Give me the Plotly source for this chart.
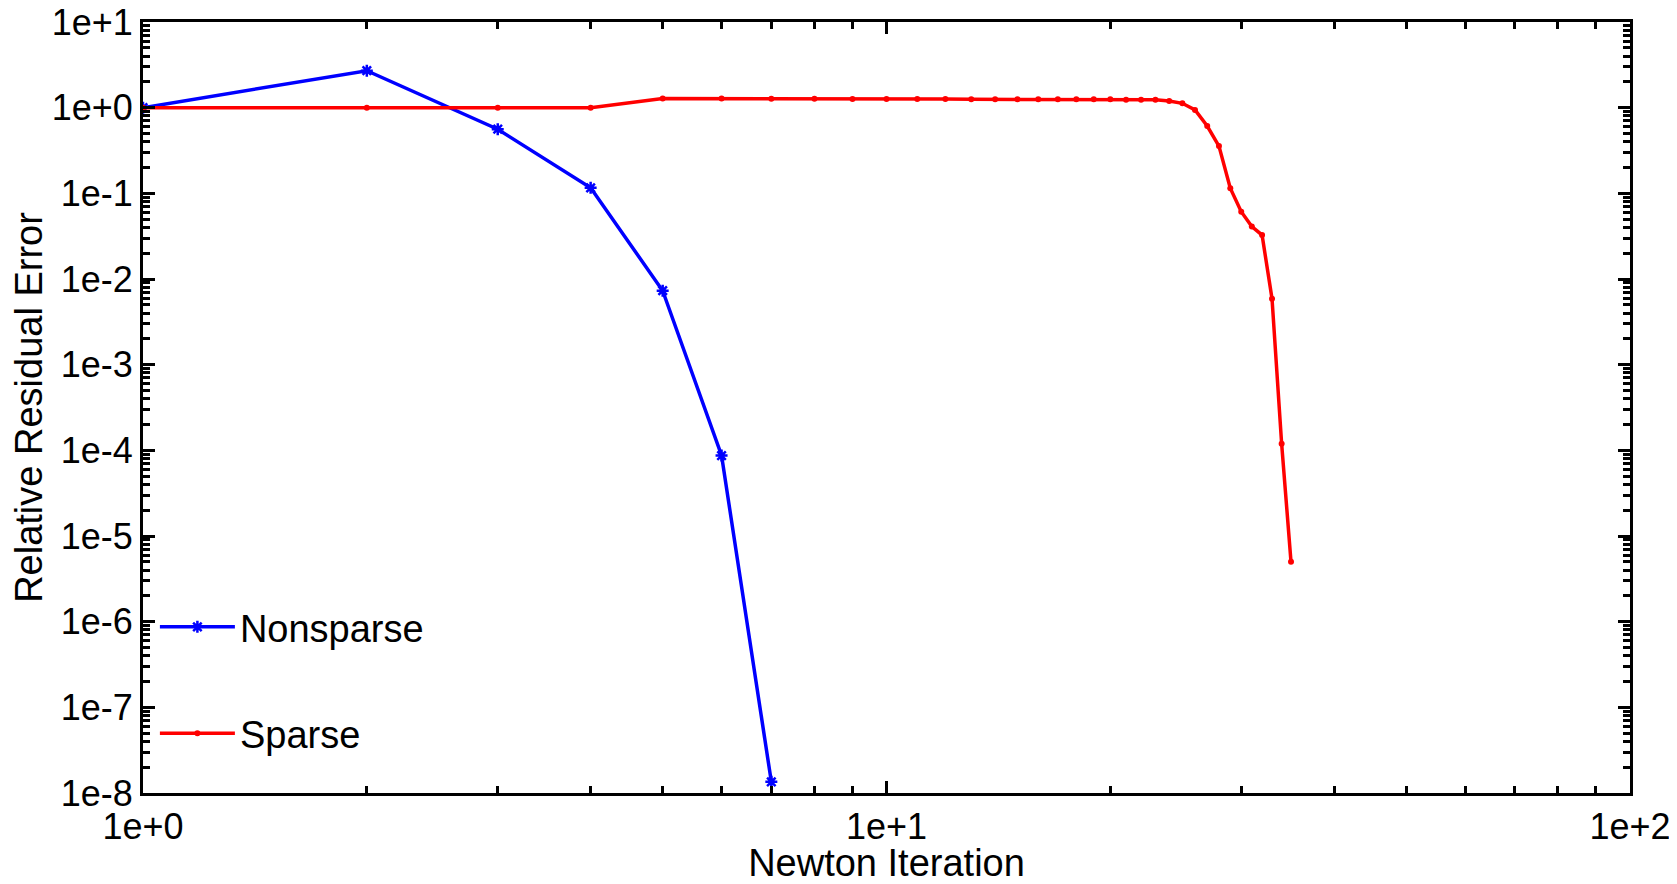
import plotly.graph_objects as go

# Newton iteration convergence
nonsparse_iter = [1, 2, 3, 4, 5, 6, 7]
nonsparse_err = [1.0, 2.7, 0.56, 0.116, 0.0073, 8.7e-5, 1.35e-8]

sparse_iter = list(range(1, 36))
sparse_err = [
    1.0, 1.0, 1.0, 1.0, 1.28, 1.28, 1.27, 1.27, 1.26, 1.26,
    1.26, 1.26, 1.25, 1.25, 1.25, 1.25, 1.25, 1.25, 1.25, 1.25,
    1.24, 1.24, 1.24, 1.195, 1.124, 0.94, 0.61, 0.356, 0.115, 0.061,
    0.041, 0.0326, 0.0059, 1.19e-4, 5.0e-6,
]

x_ticks = [1, 10, 100]
x_labels = ["1e+0", "1e+1", "1e+2"]
y_ticks = [1e-8, 1e-7, 1e-6, 1e-5, 1e-4, 1e-3, 1e-2, 1e-1, 1e0, 1e1]
y_labels = ["1e-8", "1e-7", "1e-6", "1e-5", "1e-4", "1e-3", "1e-2", "1e-1", "1e+0", "1e+1"]

FONT = "Liberation Sans, Arial, sans-serif"

fig = go.Figure()
fig.add_trace(go.Scatter(
    x=nonsparse_iter, y=nonsparse_err,
    mode="lines+markers", name="Nonsparse", legendgroup="a",
    line=dict(color="#0000FF", width=3.5),
    marker=dict(symbol="asterisk-open", size=10, color="#0000FF",
                line=dict(color="#0000FF", width=2.5)),
))
fig.add_trace(go.Scatter(
    x=sparse_iter, y=sparse_err,
    mode="lines+markers", name="Sparse", legendgroup="b",
    line=dict(color="#FF0000", width=3.5),
    marker=dict(symbol="circle", size=6, color="#FF0000"),
))

axis_common = dict(
    showgrid=False, zeroline=False, automargin=False,
    showline=True, linecolor="black", linewidth=3, mirror="allticks",
    ticks="inside", ticklen=12, tickwidth=2.5, tickcolor="black",
    ticklabeloverflow="allow",
    tickfont=dict(family=FONT, size=36, color="black"),
)

fig.update_xaxes(
    type="log", range=[0, 2],
    tickvals=x_ticks, ticktext=x_labels,
    minor=dict(ticks="inside", ticklen=7, tickwidth=2.5, tickcolor="black",
               tickvals=[k * 10 ** d for d in range(2) for k in range(2, 10)]),
    title=dict(text="Newton Iteration", font=dict(family=FONT, size=38, color="black"),
               standoff=6),
    **axis_common,
)
fig.update_yaxes(
    type="log", range=[-8, 1],
    tickvals=y_ticks, ticktext=y_labels,
    minor=dict(ticks="inside", ticklen=7, tickwidth=2.5, tickcolor="black",
               tickvals=[k * 10 ** d for d in range(-8, 1) for k in range(2, 10)]),
    title=dict(text="Relative Residual Error", font=dict(family=FONT, size=38, color="black"),
               standoff=22),
    **axis_common,
)

# page body adds an 8px offset, so the figure is sized to fit the window
fig.update_layout(
    width=1669, height=876,
    paper_bgcolor="white", plot_bgcolor="white",
    margin=dict(l=135, r=47, t=14, b=91),
    showlegend=True,
    legend=dict(
        x=0.008, y=0.256, xanchor="left", yanchor="top",
        bgcolor="rgba(0,0,0,0)", borderwidth=0,
        font=dict(family=FONT, size=38, color="black"),
        traceorder="grouped", tracegroupgap=54, itemwidth=75,
    ),
)

fig.write_html("out.html")
